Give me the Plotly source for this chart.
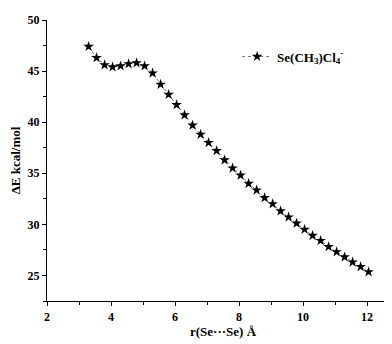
import plotly.graph_objects as go

# r(Se...Se) distances in Angstrom
r_values = [
    3.30, 3.55, 3.80, 4.05, 4.30, 4.55, 4.80, 5.05, 5.30, 5.55,
    5.80, 6.05, 6.30, 6.55, 6.80, 7.05, 7.30, 7.55, 7.80, 8.05,
    8.30, 8.55, 8.80, 9.05, 9.30, 9.55, 9.80, 10.05, 10.30, 10.55,
    10.80, 11.05, 11.30, 11.55, 11.80, 12.05,
]
# interaction energy, kcal/mol
de_values = [
    47.4, 46.3, 45.6, 45.4, 45.5, 45.7, 45.8, 45.5, 44.8, 43.7,
    42.7, 41.7, 40.7, 39.7, 38.8, 38.0, 37.2, 36.3, 35.5, 34.8,
    34.0, 33.35, 32.6, 32.0, 31.3, 30.7, 30.1, 29.5, 28.9, 28.4,
    27.8, 27.3, 26.8, 26.3, 25.85, 25.35,
]
x_ticks = [2, 4, 6, 8, 10, 12]
y_ticks = [25, 30, 35, 40, 45, 50]
series_name = "<b>Se(CH<sub>3</sub>)Cl<sub>4</sub><sup>-</sup></b>"

FONT = "Liberation Serif"

fig = go.Figure()
fig.add_trace(go.Scatter(
    x=r_values,
    y=de_values,
    mode="lines+markers",
    name=series_name,
    line=dict(color="#777777", width=1, dash="dot"),
    marker=dict(symbol="star", size=8, color="black"),
))

axis_common = dict(
    showline=True,
    linecolor="black",
    linewidth=1.2,
    ticks="outside",
    ticklen=4,
    tickwidth=1.2,
    tickcolor="black",
    showgrid=False,
    zeroline=False,
    mirror=False,
    tickfont=dict(family=FONT, size=12, color="black"),
)

fig.update_xaxes(
    range=[2, 13],
    tickvals=x_ticks,
    ticktext=[f"<b>{v}</b>" for v in x_ticks],
    minor=dict(dtick=1, tick0=2, ticks="outside", ticklen=3, tickcolor="black"),
    title=dict(text="<b>r(Se···Se) Å</b>", font=dict(family=FONT, size=13, color="black"),
               standoff=4),
    **axis_common,
)
fig.update_yaxes(
    range=[22.5, 50],
    tickvals=y_ticks,
    ticktext=[f"<b>{v}</b>" for v in y_ticks],
    minor=dict(dtick=2.5, tick0=25, ticks="outside", ticklen=3, tickcolor="black"),
    title=dict(text="<b>ΔE kcal/mol</b>", font=dict(family=FONT, size=13, color="black"),
               standoff=4),
    **axis_common,
)

fig.update_layout(
    width=392,
    height=344,
    margin=dict(l=39, r=1, t=12, b=51),
    paper_bgcolor="white",
    plot_bgcolor="white",
    showlegend=True,
    legend=dict(
        x=0.54,
        y=0.87,
        xanchor="left",
        yanchor="middle",
        itemwidth=30,
        bgcolor="rgba(0,0,0,0)",
        font=dict(family=FONT, size=13, color="black"),
    ),
)

fig.write_html("out.html")
